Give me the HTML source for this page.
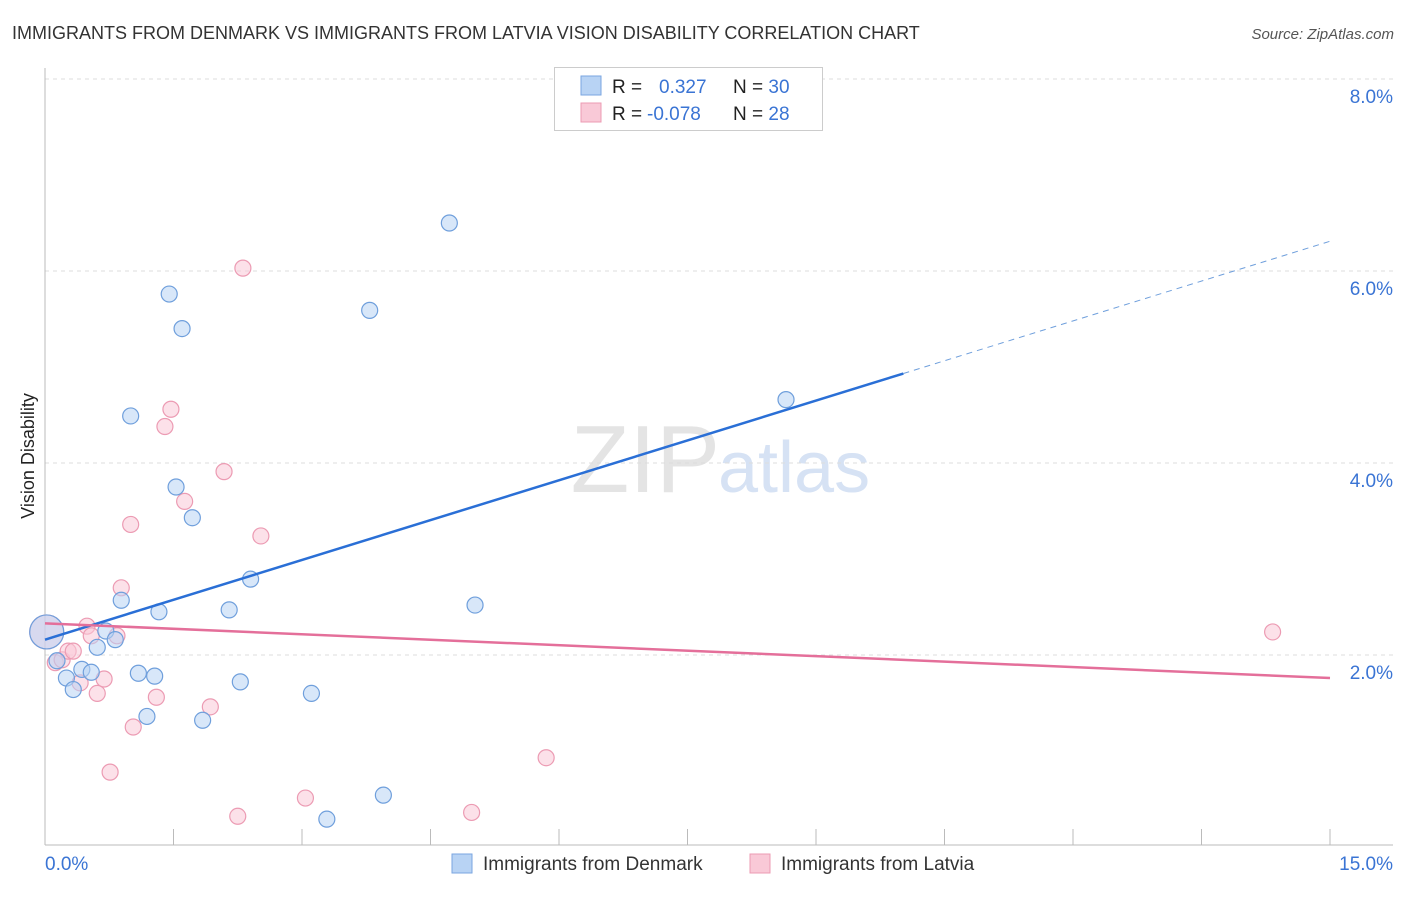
<!DOCTYPE html>
<html><head><meta charset="utf-8"><style>
body{margin:0;background:#fff;font-family:"Liberation Sans",sans-serif}
svg text{font-family:"Liberation Sans",sans-serif}
</style></head><body>
<svg width="1406" height="892" id="chart">
<text x="12" y="39" font-size="18" fill="#333">IMMIGRANTS FROM DENMARK VS IMMIGRANTS FROM LATVIA VISION DISABILITY CORRELATION CHART</text>
<text x="1394" y="39" font-size="15" fill="#555" font-style="italic" text-anchor="end">Source: ZipAtlas.com</text>
<text x="34" y="456" font-size="18" fill="#222" text-anchor="middle" transform="rotate(-90 34 456)">Vision Disability</text>
<text x="720" y="492" font-size="96" fill="#e4e4e4" text-anchor="end" font-family="Liberation Serif">ZIP</text>
<text x="718" y="492" font-size="72" fill="#d6e2f4">atlas</text>
<g id="grid"></g><g id="marks"></g>
<g>
<rect x="554.500" y="67.500" width="268" height="63" fill="#fff" stroke="#ccc"/>
<rect x="581" y="76" width="20" height="19" fill="#b8d3f4" stroke="#7aa6e0"/>
<rect x="581" y="103" width="20" height="19" fill="#f9c9d7" stroke="#ec9bb3"/>
<text x="612" y="93" font-size="19" fill="#222">R = <tspan fill="#3a74d4" x="659">0.327</tspan><tspan fill="#222" x="733">N = </tspan><tspan fill="#3a74d4">30</tspan></text>
<text x="612" y="120" font-size="19" fill="#222">R = <tspan fill="#3a74d4" x="647">-0.078</tspan><tspan fill="#222" x="733">N = </tspan><tspan fill="#3a74d4">28</tspan></text>
</g>
<g>
<rect x="452" y="854" width="20" height="19" fill="#b8d3f4" stroke="#7aa6e0"/>
<text x="483" y="870" font-size="19" fill="#333">Immigrants from Denmark</text>
<rect x="750" y="854" width="20" height="19" fill="#f9c9d7" stroke="#ec9bb3"/>
<text x="781" y="870" font-size="19" fill="#333">Immigrants from Latvia</text>
</g>
</svg>
<script>
const blueX=[0.02,0.14,0.25,0.33,0.43,0.54,0.61,0.71,0.82,0.89,1.00,1.09,1.19,1.28,1.33,1.45,1.53,1.60,1.72,1.84,2.15,2.28,2.40,3.11,3.29,3.79,3.95,4.72,5.02,8.65];
const blueY=[2.24,1.94,1.76,1.64,1.85,1.82,2.08,2.25,2.16,2.57,4.49,1.81,1.36,1.78,2.45,5.76,3.75,5.40,3.43,1.32,2.47,1.72,2.79,1.60,0.29,5.59,0.54,6.50,2.52,4.66];
const pinkX=[0.02,0.12,0.20,0.27,0.33,0.41,0.49,0.54,0.61,0.69,0.76,0.84,0.89,1.00,1.03,1.30,1.40,1.47,1.63,1.93,2.09,2.25,2.31,2.52,3.04,4.98,5.85,14.33];
const pinkY=[2.24,1.92,1.95,2.04,2.04,1.71,2.30,2.20,1.60,1.75,0.78,2.20,2.70,3.36,1.25,1.56,4.38,4.56,3.60,1.46,3.91,0.32,6.03,3.24,0.51,0.36,0.93,2.24];
const yTicks=[2,4,6,8];
const yTickLabels=["2.0%","4.0%","6.0%","8.0%"];
const xTicks=[0,1.5,3,4.5,6,7.5,9,10.5,12,13.5,15];
const blueTrend=[2.16,6.31]; const blueSolidEnd=10.02;
const pinkTrend=[2.33,1.76];
const X=v=>45+v/15*1285, Y=v=>847-v*96;
const ns="http://www.w3.org/2000/svg";
function mk(t,a,p){const e=document.createElementNS(ns,t);for(const k in a)e.setAttribute(k,a[k]);p.appendChild(e);return e;}
const g=document.getElementById('grid'), m=document.getElementById('marks');
yTicks.forEach((t,i)=>{
 const l=mk('line',{x1:45,x2:1393,y1:Y(t),y2:Y(t),stroke:'#ddd','stroke-dasharray':'4 4'},g);
 
 
 const tx=mk('text',{x:1393,y:Y(t)+24,'font-size':19,fill:'#3a74d4','text-anchor':'end'},g);tx.textContent=yTickLabels[i];
 
 
});
mk('line',{x1:45,x2:1393,y1:Y(8)-0,y2:Y(8)},g);
const ax=mk('line',{x1:45,x2:45,y1:68,y2:845,stroke:'#bbb'},g);


const bx=mk('line',{x1:45,x2:1393,y1:845,y2:845,stroke:'#bbb'},g);


xTicks.forEach(t=>{const l=mk('line',{x1:X(t),x2:X(t),y1:829,y2:845,stroke:'#bbb'},g);
 
 });
const x0=mk('text',{x:45,y:870,'font-size':19,fill:'#3a74d4'},g);x0.textContent='0.0%';


const x1=mk('text',{x:1393,y:870,'font-size':19,fill:'#3a74d4','text-anchor':'end'},g);x1.textContent='15.0%';


function pts(xs,ys,fill,stroke,name){xs.forEach((x,i)=>{const c=mk('circle',{cx:X(x),cy:Y(ys[i]),r:(i===0?17:8),fill:fill,'fill-opacity':0.55,stroke:stroke,'stroke-width':1.2},m);
 
 });}
pts(pinkX,pinkY,'#f9c9d7','#ec9bb3','latvia-point');
pts(blueX,blueY,'#b8d3f4','#6f9fdc','denmark-point');
const bv=v=>blueTrend[0]+(blueTrend[1]-blueTrend[0])*v/15;
const bl=mk('line',{x1:X(0),y1:Y(bv(0)),x2:X(blueSolidEnd),y2:Y(bv(blueSolidEnd)),stroke:'#2a6fd6','stroke-width':2.5},m);


const bd=mk('line',{x1:X(blueSolidEnd),y1:Y(bv(blueSolidEnd)),x2:X(15),y2:Y(bv(15)),stroke:'#6f9fdc','stroke-width':1,'stroke-dasharray':'6 5'},m);


const pl=mk('line',{x1:X(0),y1:Y(pinkTrend[0]),x2:X(15),y2:Y(pinkTrend[1]),stroke:'#e46f9a','stroke-width':2.5},m);


</script>
</body></html>
